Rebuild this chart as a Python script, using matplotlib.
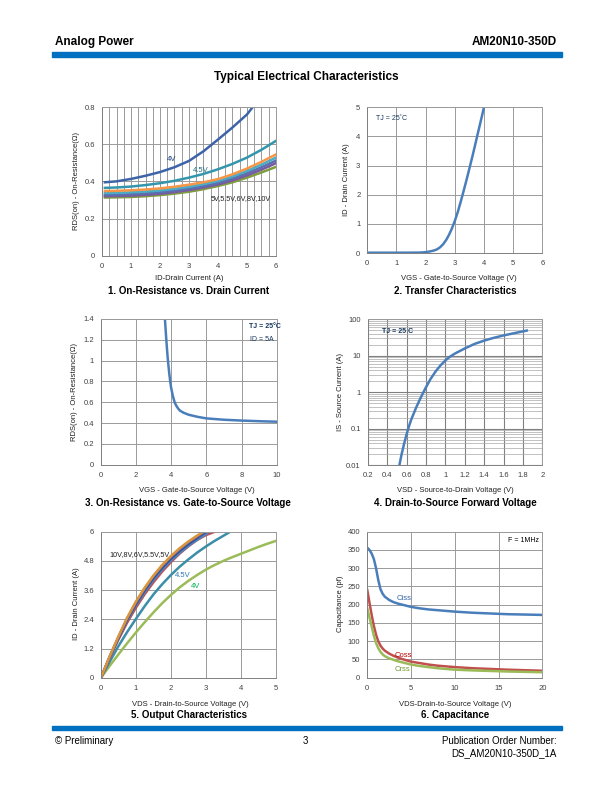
import matplotlib
matplotlib.use("Agg")
import matplotlib.pyplot as plt
import numpy as np
from matplotlib.ticker import MultipleLocator, FixedLocator, NullFormatter, LogLocator
from matplotlib.patches import Rectangle

plt.rcParams['font.family'] = ['Liberation Sans', 'DejaVu Sans']

# ---------------- data ----------------
# 1. On-resistance vs drain current
c1_x = [0.1, 0.5, 1, 1.5, 2, 2.5, 3, 3.5, 4, 4.5, 5, 5.5, 6]
c1_4v_x = [0.1, 0.5, 1, 1.5, 2, 2.5, 3, 3.5, 4, 4.5, 5, 5.2]
c1_4v = [0.395, 0.40, 0.413, 0.43, 0.45, 0.476, 0.51, 0.562, 0.625, 0.69, 0.76, 0.80]
c1_45v = [0.365, 0.367, 0.372, 0.38, 0.39, 0.403, 0.42, 0.44, 0.465, 0.494, 0.528, 0.57, 0.618]
c1_5v = [0.348, 0.349, 0.352, 0.356, 0.362, 0.371, 0.382, 0.395, 0.412, 0.438, 0.469, 0.505, 0.545]
c1_55v = [0.337, 0.338, 0.341, 0.345, 0.351, 0.360, 0.371, 0.385, 0.402, 0.426, 0.456, 0.490, 0.528]
c1_6v = [0.327, 0.328, 0.331, 0.335, 0.341, 0.350, 0.361, 0.375, 0.392, 0.415, 0.444, 0.476, 0.512]
c1_8v = [0.320, 0.321, 0.323, 0.327, 0.333, 0.342, 0.353, 0.367, 0.383, 0.405, 0.432, 0.463, 0.498]
c1_10v = [0.313, 0.314, 0.316, 0.320, 0.326, 0.334, 0.344, 0.358, 0.375, 0.395, 0.420, 0.448, 0.478]

# 2. Transfer characteristics
c2_vgs = [0, 0.5, 1, 1.5, 1.8, 1.9, 2.0, 2.1, 2.2, 2.3, 2.4, 2.5, 2.6, 2.7,
          2.8, 2.9, 3.0, 3.1, 3.2, 3.3, 3.4, 3.5, 3.6, 3.7, 3.8, 3.9, 4.0]
c2_id = [0.01, 0.01, 0.01, 0.012, 0.015, 0.02, 0.03, 0.045, 0.065, 0.09, 0.13,
         0.2, 0.3, 0.44, 0.62, 0.84, 1.1, 1.4, 1.75, 2.12, 2.5, 2.9, 3.3, 3.72,
         4.15, 4.57, 5.0]

# 3. On-resistance vs gate-to-source voltage
c3_vgs = [3.65, 3.7, 3.75, 3.8, 3.85, 3.9, 3.95, 4.0, 4.1, 4.2, 4.3, 4.4, 4.5,
          4.7, 5.0, 5.5, 6, 7, 8, 9, 10]
c3_r = [1.4, 1.27, 1.15, 1.04, 0.95, 0.87, 0.8, 0.74, 0.66, 0.6, 0.565, 0.54,
        0.52, 0.5, 0.48, 0.46, 0.445, 0.432, 0.424, 0.418, 0.413]

# 4. Drain-to-source forward voltage
c4_vsd = [0.527, 0.55, 0.575, 0.6, 0.625, 0.65, 0.7, 0.75, 0.8, 0.85, 0.9, 0.95,
          1.0, 1.05, 1.1, 1.2, 1.3, 1.4, 1.5, 1.6, 1.7, 1.84]
c4_is = [0.01, 0.02, 0.038, 0.068, 0.115, 0.18, 0.38, 0.74, 1.35, 2.35, 3.7,
         5.4, 7.4, 9.5, 11.5, 15.8, 21, 26, 31, 36, 41, 49]

# 5. Output characteristics
c5_4v_x = [0, 0.25, 0.5, 0.75, 1, 1.25, 1.5, 1.75, 2, 2.25, 2.5, 2.75, 3, 3.25,
           3.5, 3.75, 4, 4.25, 4.5, 4.75, 5]
c5_4v = [0, 0.49, 0.96, 1.42, 1.86, 2.28, 2.68, 3.06, 3.4, 3.71, 3.98, 4.22,
         4.44, 4.63, 4.8, 4.95, 5.09, 5.23, 5.37, 5.5, 5.62]
c5_45v_x = [0, 0.25, 0.5, 0.75, 1, 1.25, 1.5, 1.75, 2, 2.25, 2.5, 2.75, 3, 3.25, 3.5, 3.7]
c5_45v = [0, 0.66, 1.3, 1.88, 2.42, 2.94, 3.42, 3.84, 4.22, 4.56, 4.86, 5.14,
          5.39, 5.62, 5.83, 6.0]
c5_5v_x = [0, 0.25, 0.5, 0.75, 1, 1.25, 1.5, 1.75, 2, 2.25, 2.5, 2.75, 3, 3.26]
c5_5v = [0, 0.81, 1.57, 2.27, 2.88, 3.43, 3.92, 4.36, 4.75, 5.1, 5.4, 5.66, 5.86, 6.0]
c5_55v_x = [0, 0.25, 0.5, 0.75, 1, 1.25, 1.5, 1.75, 2, 2.25, 2.5, 2.75, 3, 3.1]
c5_55v = [0, 0.84, 1.62, 2.35, 2.97, 3.52, 4.01, 4.44, 4.81, 5.13, 5.42, 5.67, 5.9, 6.0]
c5_6v_x = [0, 0.25, 0.5, 0.75, 1, 1.25, 1.5, 1.75, 2, 2.25, 2.5, 2.75, 3.0]
c5_6v = [0, 0.86, 1.65, 2.4, 3.04, 3.6, 4.1, 4.53, 4.9, 5.22, 5.5, 5.75, 6.0]
c5_8v_x = [0, 0.25, 0.5, 0.75, 1, 1.25, 1.5, 1.75, 2, 2.25, 2.5, 2.75, 2.96]
c5_8v = [0, 0.87, 1.68, 2.44, 3.09, 3.66, 4.16, 4.59, 4.96, 5.28, 5.56, 5.8, 6.0]
c5_10v_x = [0, 0.25, 0.5, 0.75, 1, 1.25, 1.5, 1.75, 2, 2.25, 2.5, 2.75, 2.93]
c5_10v = [0, 0.88, 1.7, 2.47, 3.13, 3.7, 4.2, 4.63, 5.0, 5.32, 5.6, 5.84, 6.0]

# 6. Capacitance
c6_vds = [0, 0.25, 0.5, 0.75, 1, 1.25, 1.5, 1.75, 2, 2.5, 3, 3.5, 4, 5, 6, 7, 8,
          10, 12, 14, 16, 18, 20]
c6_ciss = [356, 350, 340, 325, 300, 268, 243, 230, 222, 213, 207, 203, 200, 194,
           190, 187, 185, 181, 178, 176, 174, 173, 172]
c6_coss = [240, 205, 172, 142, 118, 100, 88, 80, 74, 66, 60, 55, 51, 44, 40, 36,
           33, 29, 26, 24, 22, 20.5, 19]
c6_crss = [190, 165, 140, 115, 95, 81, 71, 64, 59, 53, 49, 45, 42, 36, 32, 29,
           26, 22, 20, 18.5, 17, 16, 15]

# ---------------- figure ----------------
W, H = 612, 792
fig = plt.figure(figsize=(W / 100, H / 100), dpi=100)

def add_ax(l, t, r, b):
    return fig.add_axes([l / W, 1 - b / H, (r - l) / W, (b - t) / H])

def ftext(x, y, s, **kw):
    kw.setdefault('va', 'center')
    fig.text(x / W, 1 - y / H, s, **kw)

GRID = '#9a9a9a'
TICKC = '#404040'
BLUE = '#4a7ebb'
LW = 1.8

def style(ax):
    ax.tick_params(axis='both', which='both', length=0, labelsize=5.5,
                   colors=TICKC, pad=5)
    for s in ax.spines.values():
        s.set_color(GRID)
        s.set_linewidth(0.7)
    ax.spines['left'].set_color('#808080')
    ax.spines['bottom'].set_color('#808080')
    ax.set_axisbelow(True)

# header / footer
fig.patches.append(Rectangle((52 / W, 1 - 56.5 / H), 510 / W, 4.5 / H,
                             transform=fig.transFigure, color='#0070c0'))
fig.patches.append(Rectangle((52 / W, 1 - 730 / H), 510 / W, 4.5 / H,
                             transform=fig.transFigure, color='#0070c0'))
ftext(55, 42, 'Analog Power', fontsize=8.5, fontweight='bold', ha='left')
ftext(557, 42, 'AM20N10-350D', fontsize=8.5, fontweight='bold', ha='right')
ftext(306, 77, 'Typical Electrical Characteristics', fontsize=8.5,
      fontweight='bold', ha='center')
ftext(55, 741, '© Preliminary', fontsize=7, ha='left')
ftext(305, 741, '3', fontsize=7, ha='center')
ftext(557, 741, 'Publication Order Number:', fontsize=7, ha='right')
ftext(557, 753, 'DS_AM20N10-350D_1A', fontsize=7, ha='right')

# ---- chart 1 ----
ax1 = add_ax(102, 107, 276, 255.7)
style(ax1)
ax1.set_xlim(0, 6); ax1.set_ylim(0, 0.8)
ax1.xaxis.set_major_locator(MultipleLocator(1))
ax1.xaxis.set_minor_locator(MultipleLocator(0.25))
ax1.yaxis.set_major_locator(MultipleLocator(0.2))
ax1.yaxis.set_major_formatter(plt.FuncFormatter(lambda v, p: '0' if abs(v) < 1e-9 else f'{v:.1f}'))
ax1.grid(True, which='both', axis='x', color=GRID, lw=0.7)
ax1.grid(True, which='major', axis='y', color=GRID, lw=0.7)
ax1.plot(c1_x, c1_10v, color='#7f9f3f', lw=LW)
ax1.plot(c1_x, c1_8v, color='#7a5a9e', lw=LW)
ax1.plot(c1_x, c1_6v, color='#5b6fb0', lw=LW)
ax1.plot(c1_x, c1_55v, color='#4bacc6', lw=LW)
ax1.plot(c1_x, c1_5v, color='#f79646', lw=LW)
ax1.plot(c1_x, c1_45v, color='#3496ac', lw=LW)
ax1.plot(c1_4v_x, c1_4v, color='#3d64a8', lw=LW)
ax1.text(2.22, 0.52, '4V', fontsize=5.5, color='#1f3f7a', ha='left', va='center')
ax1.text(3.15, 0.457, '4.5V', fontsize=5.5, color='#1f6f80', ha='left', va='center')
ax1.text(3.75, 0.31, '5V,5.5V,6V,8V,10V', fontsize=5.2, color='#202020', ha='left', va='center')
ftext(76, 181, 'RDS(on) - On-Resistance(Ω)', fontsize=5.5, rotation=90,
      ha='center', color='#202020')
ftext(189, 278, 'ID-Drain Current (A)', fontsize=5.5, ha='center', color='#202020')
ftext(189, 291, '1. On-Resistance vs. Drain Current', fontsize=7,
      fontweight='bold', ha='center')

# ---- chart 2 ----
ax2 = add_ax(367.3, 107.3, 542.3, 253)
style(ax2)
ax2.set_xlim(0, 6); ax2.set_ylim(0, 5)
ax2.xaxis.set_major_locator(MultipleLocator(1))
ax2.yaxis.set_major_locator(MultipleLocator(1))
ax2.grid(True, color=GRID, lw=0.7)
ax2.plot(c2_vgs, c2_id, color=BLUE, lw=LW)
ax2.text(0.3, 4.62, 'TJ = 25˚C', fontsize=5, color='#17375e', ha='left', va='center')
ftext(346, 180, 'ID - Drain Current (A)', fontsize=5.5, rotation=90,
      ha='center', color='#202020')
ftext(459, 279, 'VGS - Gate-to-Source Voltage (V)', fontsize=5.5, ha='center', color='#202020')
ftext(455, 291, '2. Transfer Characteristics', fontsize=7,
      fontweight='bold', ha='center')

# ---- chart 3 ----
ax3 = add_ax(100.7, 319, 276.7, 464.7)
style(ax3)
ax3.set_xlim(0, 10); ax3.set_ylim(0, 1.4)
ax3.xaxis.set_major_locator(MultipleLocator(2))
ax3.yaxis.set_major_locator(MultipleLocator(0.2))
ax3.yaxis.set_major_formatter(plt.FuncFormatter(
    lambda v, p: '0' if abs(v) < 1e-9 else ('1' if abs(v - 1) < 1e-9 else f'{v:.1f}')))
ax3.grid(True, color=GRID, lw=0.7)
ax3.plot(c3_vgs, c3_r, color=BLUE, lw=LW)
ax3.text(8.45, 1.33, 'TJ = 25°C', fontsize=5, color='#17375e', ha='left',
         va='center', fontweight='bold')
ax3.text(8.5, 1.205, 'ID = 5A', fontsize=5, color='#17375e', ha='left', va='center')
ftext(75, 392, 'RDS(on) - On-Resistance(Ω)', fontsize=5.5, rotation=90,
      ha='center', color='#202020')
ftext(197, 491, 'VGS - Gate-to-Source Voltage (V)', fontsize=5.5, ha='center', color='#202020')
ftext(188, 503, '3. On-Resistance vs. Gate-to-Source Voltage', fontsize=7,
      fontweight='bold', ha='center')

# ---- chart 4 ----
ax4 = add_ax(367.7, 319.3, 542.3, 465)
style(ax4)
ax4.set_yscale('log')
ax4.set_xlim(0.2, 2); ax4.set_ylim(0.01, 100)
ax4.xaxis.set_major_locator(MultipleLocator(0.2))
ax4.xaxis.set_major_formatter(plt.FuncFormatter(
    lambda v, p: f'{v:.0f}' if abs(v - round(v)) < 1e-9 else f'{v:.1f}'))
ax4.yaxis.set_major_locator(FixedLocator([0.01, 0.1, 1, 10, 100]))
ax4.yaxis.set_major_formatter(plt.FuncFormatter(
    lambda v, p: {0.01: '0.01', 0.1: '0.1', 1: '1', 10: '10', 100: '100'}.get(round(v, 2), '')))
ax4.yaxis.set_minor_locator(LogLocator(base=10, subs=np.arange(2, 10)))
ax4.yaxis.set_minor_formatter(NullFormatter())
ax4.grid(True, which='major', color='#808080', lw=0.8)
ax4.grid(True, which='minor', axis='y', color='#a8a8a8', lw=0.5)
ax4.plot(c4_vsd, c4_is, color=BLUE, lw=LW)
ax4.text(0.35, 45, 'TJ = 25 C', fontsize=5, color='#17375e', ha='left',
         va='center', fontweight='bold')
ftext(341, 392, 'IS - Source Current (A)', fontsize=5.5, rotation=90,
      ha='center', color='#202020')
ftext(455, 491, 'VSD - Source-to-Drain Voltage (V)', fontsize=5.5, ha='center', color='#202020')
ftext(455, 503, '4. Drain-to-Source Forward Voltage', fontsize=7,
      fontweight='bold', ha='center')

# ---- chart 5 ----
ax5 = add_ax(101, 531.7, 275.7, 677.7)
style(ax5)
ax5.set_xlim(0, 5); ax5.set_ylim(0, 6)
ax5.xaxis.set_major_locator(MultipleLocator(1))
ax5.yaxis.set_major_locator(MultipleLocator(1.2))
ax5.yaxis.set_major_formatter(plt.FuncFormatter(lambda v, p: '0' if abs(v) < 1e-9 else ('6' if abs(v - 6) < 1e-9 else f'{v:.1f}')))
ax5.grid(True, color=GRID, lw=0.7)
ax5.plot(c5_4v_x, c5_4v, color='#9bbb59', lw=LW)
ax5.plot(c5_45v_x, c5_45v, color='#3a8ea8', lw=LW)
ax5.plot(c5_5v_x, c5_5v, color='#c0504d', lw=LW)
ax5.plot(c5_55v_x, c5_55v, color='#4f81bd', lw=LW)
ax5.plot(c5_6v_x, c5_6v, color='#2c4d8a', lw=LW)
ax5.plot(c5_8v_x, c5_8v, color='#8064a2', lw=LW)
ax5.plot(c5_10v_x, c5_10v, color='#d9963a', lw=LW)
ax5.text(0.24, 5.07, '10V,8V,6V,5.5V,5V', fontsize=5.2, color='#202020', ha='left', va='center')
ax5.text(2.12, 4.19, '4.5V', fontsize=5.5, color='#2e75b6', ha='left', va='center')
ax5.text(2.58, 3.74, '4V', fontsize=5.5, color='#00b050', ha='left', va='center')
ftext(76, 604, 'ID - Drain Current (A)', fontsize=5.5, rotation=90,
      ha='center', color='#202020')
ftext(190, 704, 'VDS - Drain-to-Source Voltage (V)', fontsize=5.5, ha='center', color='#202020')
ftext(189, 715, '5. Output Characteristics', fontsize=7,
      fontweight='bold', ha='center')

# ---- chart 6 ----
ax6 = add_ax(367.3, 531.7, 542.3, 677.7)
style(ax6)
ax6.set_xlim(0, 20); ax6.set_ylim(0, 400)
ax6.xaxis.set_major_locator(MultipleLocator(5))
ax6.yaxis.set_major_locator(MultipleLocator(50))
ax6.grid(True, color=GRID, lw=0.7)
ax6.plot(c6_vds, c6_ciss, color=BLUE, lw=LW)
ax6.plot(c6_vds, c6_coss, color='#c0504d', lw=LW)
ax6.plot(c6_vds, c6_crss, color='#9bbb59', lw=LW)
ax6.text(3.4, 217, 'Ciss', fontsize=5.5, color='#2e64a8', ha='left', va='center')
ax6.text(3.1, 60, 'Coss', fontsize=5.5, color='#c00000', ha='left', va='center')
ax6.text(3.1, 22, 'Crss', fontsize=5.5, color='#6f9a2e', ha='left', va='center')
ax6.text(16.1, 377, 'F = 1MHz', fontsize=5, color='#000000', ha='left', va='center')
ftext(340, 604, 'Capacitance (pf)', fontsize=5.5, rotation=90,
      ha='center', color='#202020')
ftext(455, 704, 'VDS-Drain-to-Source Voltage (V)', fontsize=5.5, ha='center', color='#202020')
ftext(455, 715, '6. Capacitance', fontsize=7, fontweight='bold', ha='center')

fig.savefig('out.png', dpi=100)
